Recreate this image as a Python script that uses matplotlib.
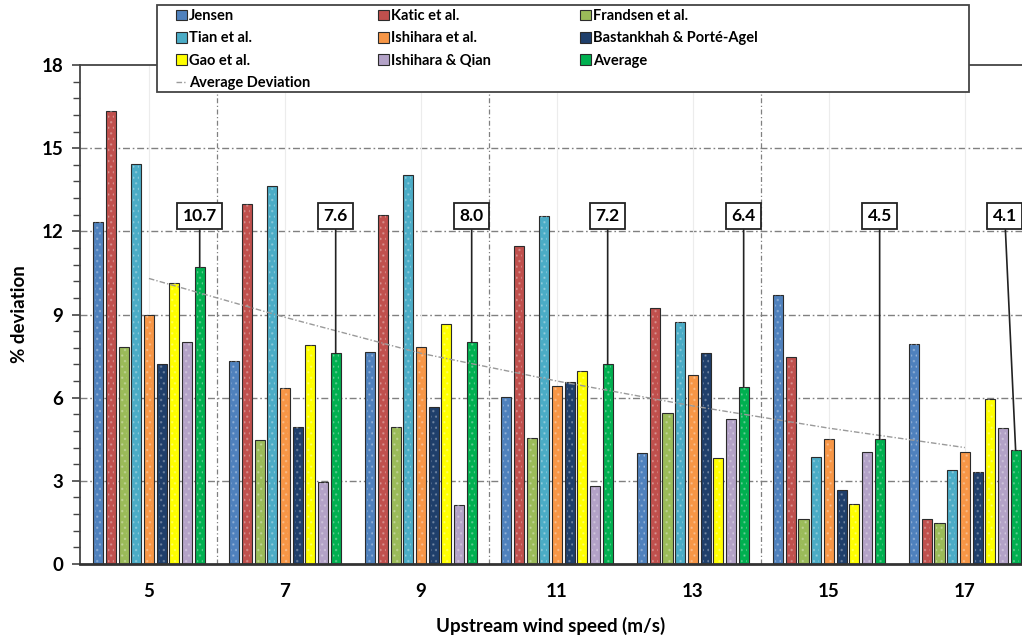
import numpy as np
import matplotlib
matplotlib.use("Agg")
from matplotlib import pyplot as plt
from matplotlib.patches import Rectangle

plt.rcParams['font.family'] = ['Lato', 'DejaVu Sans']
plt.rcParams['hatch.linewidth'] = 1.0

speeds = ['5', '7', '9', '11', '13', '15', '17']
models = ['Jensen', 'Katic et al.', 'Frandsen et al.', 'Tian et al.', 'Ishihara et al.',
          'Bastankhah & Porté-Agel', 'Gao et al.', 'Ishihara & Qian', 'Average']
colors = ['#4F81BD', '#C0504D', '#9BBB59', '#4BACC6', '#F79646',
          '#1F3F6B', '#FFFF00', '#B3A2C7', '#00B050']

jensen     = [12.35, 7.32, 7.66, 6.04, 4.02, 9.70, 7.92]
katic      = [16.35, 13.0, 12.58, 11.46, 9.22, 7.46, 1.61]
frandsen   = [7.82, 4.47, 4.95, 4.53, 5.46, 1.61, 1.49]
tian       = [14.44, 13.64, 14.02, 12.54, 8.74, 3.87, 3.39]
ishihara   = [9.0, 6.34, 7.82, 6.41, 6.83, 4.52, 4.05]
bastankhah = [7.2, 4.94, 5.66, 6.58, 7.6, 2.67, 3.31]
gao        = [10.12, 7.91, 8.66, 6.96, 3.81, 2.15, 5.94]
ish_qian   = [8.0, 2.97, 2.12, 2.81, 5.24, 4.05, 4.9]
average    = [10.7, 7.6, 8.0, 7.2, 6.4, 4.5, 4.1]
avg_trend  = [10.3, 8.9, 7.6, 6.6, 5.7, 4.9, 4.2]

series = [jensen, katic, frandsen, tian, ishihara, bastankhah, gao, ish_qian, average]

fig = plt.figure(figsize=(10.22, 6.37), dpi=100)
ax = fig.add_axes([80 / 1022, 73 / 637, 1 - 80 / 1022, 499 / 637])

x = np.arange(len(speeds))
slot = 0.0933
width = 0.074
start = -slot * len(series) / 2 + slot / 2

# grid
for yv in [3, 6, 9, 12, 15]:
    ax.axhline(yv, color='#808080', lw=1.0, dashes=(5, 2, 1.2, 2), zorder=0)
for xv in [0.5, 2.5, 4.5]:
    ax.axvline(xv, color='#808080', lw=0.9, dashes=(4, 2, 1, 2), zorder=0)
for xv in x:
    ax.axvline(xv, color='#ececec', lw=0.8, zorder=0)

bars = []
for k, (vals, c) in enumerate(zip(series, colors)):
    pos = x + start + k * slot
    b = ax.bar(pos, vals, width, color=c, edgecolor='#2b2b2b', linewidth=0.8,
               zorder=2, label=models[k])
    ax.bar(pos, vals, width * 0.6, fill=False, edgecolor=(1, 1, 1, 0.25),
           hatch='...', linewidth=0, zorder=3)
    bars.append(b)

trend, = ax.plot(x, avg_trend, color='#9a9a9a', lw=1.0, dashes=(4, 1.5, 1, 1.5),
                 zorder=4, label='Average Deviation')

# value boxes for the average bars
avg_pos = x + start + 8 * slot
for i, v in enumerate(average):
    tx = avg_pos[i] - (0.08 if i == len(average) - 1 else 0.0)
    ax.annotate('%.1f' % v, xy=(avg_pos[i], v), xytext=(tx, 12.55),
                ha='center', va='center', fontsize=12.5, fontweight='bold',
                bbox=dict(boxstyle='square,pad=0.3', fc='white', ec='#222222', lw=1.3),
                arrowprops=dict(arrowstyle='-', color='#222222', lw=1.2,
                                shrinkA=0, shrinkB=0),
                zorder=6)

ax.set_xlim(-0.507, 6.42)
ax.set_ylim(0, 18)
ax.set_yticks([0, 3, 6, 9, 12, 15, 18])
ax.set_yticks(np.arange(0, 18.01, 0.6), minor=True)
ax.set_xticks(x)
ax.set_xticklabels(speeds)
ax.tick_params(axis='y', which='major', length=6, width=1.2, color='#444444',
               labelsize=13.5, pad=6)
ax.tick_params(axis='y', which='minor', length=5, width=1.0, color='#444444')
ax.tick_params(axis='x', length=0, labelsize=13.5, pad=14)
for lab in ax.get_xticklabels() + ax.get_yticklabels():
    lab.set_fontweight('bold')

ax.spines['right'].set_visible(False)
ax.spines['left'].set_color('#444444')
ax.spines['left'].set_linewidth(1.3)
ax.spines['top'].set_color('#444444')
ax.spines['top'].set_linewidth(1.3)
ax.spines['bottom'].set_color('#333333')
ax.spines['bottom'].set_linewidth(2.0)

ax.set_xlabel('Upstream wind speed (m/s)', fontsize=13.5, fontweight='bold', labelpad=12)
ax.set_ylabel('% deviation', fontsize=13.5, fontweight='bold', labelpad=10)

# legend: white frame plus one legend per column
fig.patches.append(Rectangle((157 / 1022, 1 - 92 / 637), 812 / 1022, 87 / 637,
                             transform=fig.transFigure, facecolor='white',
                             edgecolor='#444444', linewidth=1.3, zorder=3))
handles = bars + [trend]
labels = models + ['Average Deviation']
columns = [[0, 3, 6, 9], [1, 4, 7], [2, 5, 8]]
col_x = [176, 378, 580]
for cols, cx in zip(columns, col_x):
    leg = fig.legend([handles[i] for i in cols], [labels[i] for i in cols],
                     loc='upper left', bbox_to_anchor=(cx / 1022, 1 - 9 / 637),
                     frameon=False, handlelength=0.75, handleheight=0.75,
                     handletextpad=0.15, labelspacing=0.58, borderpad=0,
                     borderaxespad=0, prop={'weight': 'bold', 'size': 10.5})
    leg.set_zorder(5)

fig.savefig('out.png', dpi=100)
